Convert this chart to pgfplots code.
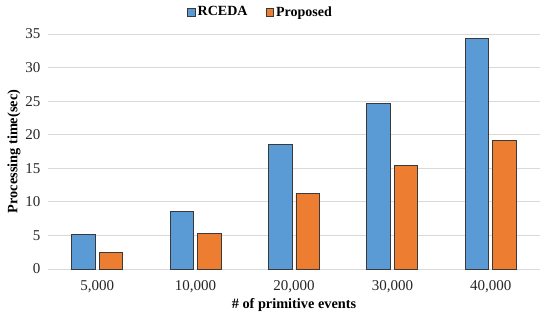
\documentclass[border=0pt]{standalone}
\usepackage{pgfplots}
\pgfplotsset{compat=1.18}
\usepackage{fontspec}
\setmainfont{Liberation Serif}
\definecolor{cblue}{HTML}{5B9BD5}
\definecolor{corange}{HTML}{ED7D31}
\definecolor{cgrid}{HTML}{D9D9D9}
\definecolor{cedge}{HTML}{3A3A3A}
\begin{document}
\begin{tikzpicture}
\useasboundingbox (-48pt,-51pt) rectangle (502pt,269pt);
\begin{axis}[
  at={(0pt,0pt)}, anchor=south west,
  scale only axis,
  width=492pt, height=235pt,
  xmin=-0.5, xmax=4.5, ymin=0, ymax=35,
  ybar=4pt, bar width=23.5pt,
  axis line style={draw=none},
  major tick length=0pt,
  ytick={0,5,...,35},
  xtick={0,1,2,3,4},
  xticklabels={{5,000},{10,000},{20,000},{30,000},{40,000}},
  ymajorgrids, grid style={cgrid, line width=0.8pt},
  /pgf/number format/assume math mode=true,
  ticklabel style={font=\fontsize{15}{17}\selectfont, text=black!85},
  yticklabel style={xshift=-4pt},
  xticklabel style={yshift=-8pt},
  xlabel={\textbf{\# of primitive events}},
  ylabel={\textbf{Processing time(sec)}},
  label style={font=\fontsize{14.3}{16}\selectfont},
  xlabel style={at={(axis description cs:0.5,0)}, anchor=center, yshift=-36pt},
  ylabel style={at={(axis description cs:0,0.5)}, anchor=center, rotate=0, xshift=0pt, yshift=34pt},
  legend style={draw=none, at={(211.5pt,257pt)}, anchor=center, legend columns=2,
    font=\bfseries\fontsize{14}{16}\selectfont, column sep=0pt, inner sep=0pt,
    /tikz/every odd column/.append style={column sep=2.5pt},
    /tikz/every even column/.append style={column sep=18pt},
    nodes={inner xsep=0pt}},
  legend image code/.code={\draw[#1, line width=0.6pt] (0pt,-4pt) rectangle (7.5pt,4pt);},
  legend cell align=left,
  clip=false,
]
\addplot[fill=cblue, draw=cedge, line width=0.8pt] coordinates {(0,5.1) (1,8.6) (2,18.5) (3,24.6) (4,34.4)};
\addplot[fill=corange, draw=cedge, line width=0.8pt] coordinates {(0,2.5) (1,5.35) (2,11.2) (3,15.45) (4,19.1)};
\legend{RCEDA, Proposed}
\end{axis}
\end{tikzpicture}
\end{document}
